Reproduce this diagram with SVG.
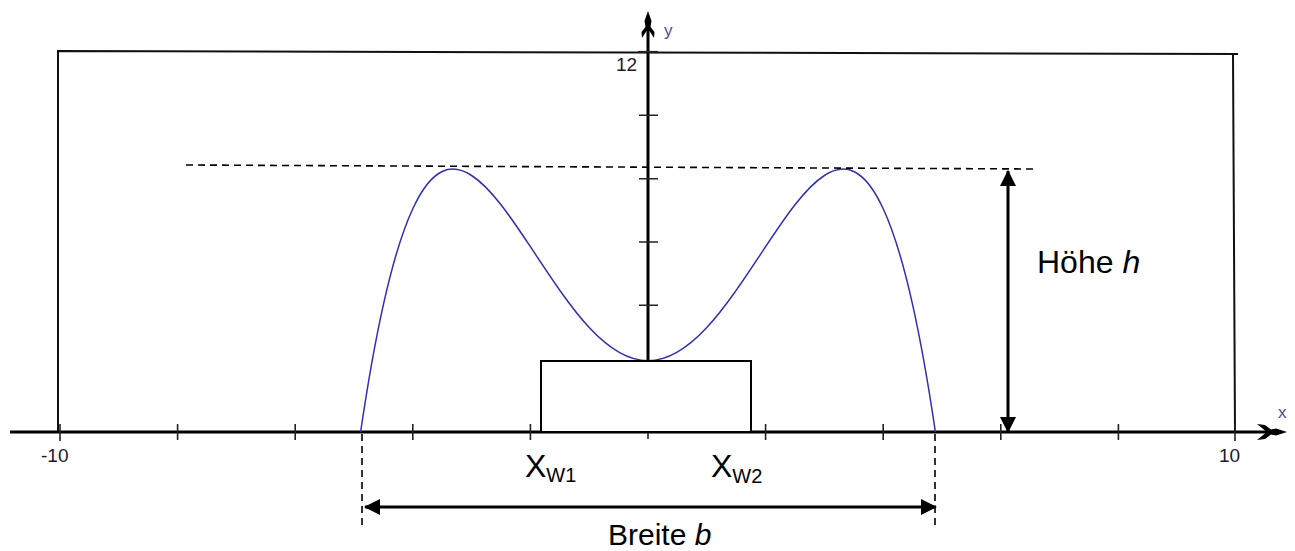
<svg xmlns="http://www.w3.org/2000/svg" width="1295" height="551" viewBox="0 0 1295 551">
<style>
.ax{stroke:#000;stroke-width:3;fill:none}
.tk{stroke:#222;stroke-width:1.6;fill:none}
.fr{stroke:#111;stroke-width:2;fill:none}
.ds{stroke:#000;stroke-width:1.6;stroke-dasharray:7 5;fill:none}
.dim{stroke:#000;stroke-width:3;fill:none}
.crv{stroke:#3030b0;stroke-width:1.5;fill:none}
.lab{font-family:"Liberation Sans",Arial,sans-serif;fill:#000}
.num{font-family:"Liberation Sans",Arial,sans-serif;font-size:19px;fill:#1a1a2e}
.axl{font-family:"Liberation Sans",Arial,sans-serif;font-size:17px;fill:#4a4a9a}
</style>
<defs>
<marker id="ah" viewBox="0 0 16 16" refX="15" refY="8" markerWidth="16" markerHeight="16" markerUnits="userSpaceOnUse" orient="auto-start-reverse">
<path d="M0,0 L16,8 L0,16 Z" fill="#000"/>
</marker>
</defs>
<rect width="1295" height="551" fill="#fff"/>
<g id="frame">
<path class="fr" d="M58,432 L58,51 L1238,54 M1233,54 L1235,432"/>
</g>
<g id="axes">
<line class="ax" x1="10" y1="432" x2="1278" y2="432"/>
<line class="ax" x1="648" y1="432" x2="648" y2="22"/>
<path d="M1287,432 L1276,435.5 L1271,434.5 L1265,439 L1257,440 L1265,433.5 L1265,430.5 L1257,424 L1265,425 L1271,429.5 L1276,428.5 Z" fill="#000"/>
<path d="M648,11 L651.5,21 L650.5,27 L654.5,32 L654,38 L649.5,31 L646.5,31 L642,38 L641.5,32 L645.5,27 L644.5,21 Z" fill="#000"/>
<g class="tk">
<path d="M60,424 V441 M177.6,424 V440 M295.2,424 V440 M412.8,424 V440 M530.4,424 V440 M648,432 V439 M765.6,424 V440 M883.2,424 V440 M1000.8,424 V440 M1118.4,424 V440 M1235,424 V441"/>
<path d="M639,115.3 H658 M639,178.7 H658 M639,242 H658 M639,305.3 H658"/>
<path d="M638,52 H658" stroke-width="2.2"/>
</g>
<text class="num" x="616" y="71">12</text>
<text class="num" x="1219" y="461.5">10</text>
<text class="num" x="41" y="462">-10</text>
<text class="axl" x="664" y="35.5">y</text>
<text class="axl" x="1278" y="418">x</text>
</g>
<g id="curve">
<path class="crv" d="M648,360.74 C667.6,360.74 687.2,348.6 706.8,327.5 C726.4,306.4 746,276.3 765.6,246.7 C785.2,217.2 804.8,188.1 824.4,175.5 C844,162.8 863.6,166.5 883.2,208.7 C893,229.8 902.8,260.7 912.6,304.6 C920.2,338.6 927.8,380.6 935.4,432"/>
<path class="crv" d="M648,360.74 C628.4,360.74 608.8,348.6 589.2,327.5 C569.6,306.4 550,276.3 530.4,246.7 C510.8,217.2 491.2,188.1 471.6,175.5 C452,162.8 432.4,166.5 412.8,208.7 C403,229.8 393.2,260.7 383.4,304.6 C375.8,338.6 368.2,380.6 360.6,432"/>
</g>
<g id="box">
<rect x="541" y="361" width="210" height="71" fill="#fff" stroke="#000" stroke-width="2"/>
</g>
<g id="connectors">
<line class="ds" x1="186" y1="165" x2="1035" y2="169"/>
<line class="ds" x1="362" y1="434" x2="362" y2="527"/>
<line class="ds" x1="935" y1="434" x2="935" y2="530"/>
<line class="dim" x1="365" y1="507" x2="936" y2="507" marker-start="url(#ah)" marker-end="url(#ah)"/>
<line class="dim" x1="1008" y1="171" x2="1008" y2="432" marker-start="url(#ah)" marker-end="url(#ah)"/>
</g>
<g id="labels">
<text class="lab" x="525" y="477" font-size="32">X<tspan font-size="20" dy="5">W1</tspan></text>
<text class="lab" x="711" y="477" font-size="32">X<tspan font-size="20" dy="6">W2</tspan></text>
<text class="lab" x="1037" y="273" font-size="32">Höhe <tspan font-style="italic">h</tspan></text>
<text class="lab" x="608" y="545" font-size="30">Breite <tspan font-style="italic">b</tspan></text>
</g>
</svg>
